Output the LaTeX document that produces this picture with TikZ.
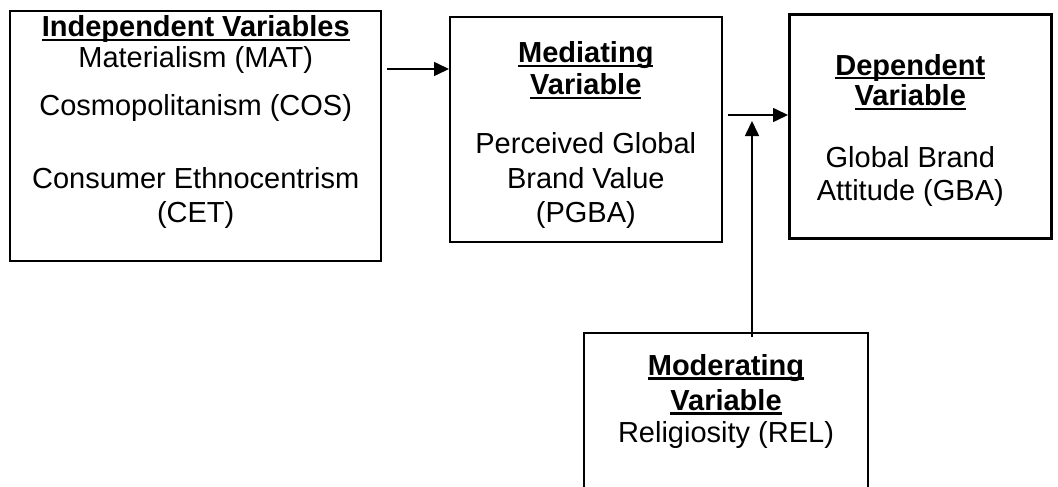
\documentclass[tikz,border=0pt]{standalone}
\usepackage{fontspec}
\setmainfont{Liberation Sans}
\usetikzlibrary{arrows.meta,positioning}

\newcommand\headvar[1]{\setbox0\hbox{\bfseries #1}\rlap{\rule[-4.5pt]{\wd0}{2.2pt}}\box0}

\begin{document}
\begin{tikzpicture}[x=1pt,y=-1pt,
    varbox/.style={rectangle, draw, line width=2.2pt, anchor=north west, inner sep=0pt},
    vartext/.style={anchor=base, inner sep=0pt, font=\fontsize{29}{33}\selectfont},
    link/.style={-{Triangle[length=15pt,width=14pt]}, line width=1.6pt}]
    \useasboundingbox (0,0) rectangle (1058,487);

    % Boxes
    \node [varbox, line width=2.4pt, minimum width=371pt, minimum height=250pt] (indep) at (9,10) {};
    \node [varbox, line width=1.6pt, minimum width=272pt, minimum height=225pt] (med) at (449,16) {};
    \node [varbox, line width=2.6pt, minimum width=262pt, minimum height=224pt] (dep) at (788,13) {};
    \node [varbox, line width=2pt, minimum width=284pt, minimum height=170pt] (mod) at (583,332) {};

    % Texts
    \foreach \txt/\yy [count=\i] in {\headvar{Independent Variables}/37, Materialism (MAT)/67,
        Cosmopolitanism (COS)/115, Consumer Ethnocentrism/188, (CET)/222}
        \node [vartext] (indep-\i) at (indep.center |- 0,\yy) {\txt};
    \foreach \txt/\yy [count=\i] in {\headvar{Mediating}/63, \headvar{Variable}/95,
        Perceived Global/153, Brand Value/188, (PGBA)/222}
        \node [vartext] (med-\i) at (med.center |- 0,\yy) {\txt};
    \foreach \txt/\yy [count=\i] in {\headvar{Dependent}/75, \headvar{Variable}/106,
        Global Brand/167, Attitude (GBA)/200}
        \node [vartext, xshift=-10pt] (dep-\i) at (dep.center |- 0,\yy) {\txt};
    \foreach \txt/\yy [count=\i] in {\headvar{Moderating}/375, \headvar{Variable}/410,
        Religiosity (REL)/442}
        \node [vartext] (mod-\i) at (mod.center |- 0,\yy) {\txt};

    % Arrows
    \coordinate (join) at (752,115);
    \draw [link] ([xshift=5pt]indep.east |- 0,69) -- (med.west |- 0,69);
    \draw [link] ([xshift=5pt]med.east |- join) -- (dep.west |- join);
    \draw [link] ([yshift=-5pt]mod.north -| join) -- ([yshift=-6pt]join);
\end{tikzpicture}
\end{document}
